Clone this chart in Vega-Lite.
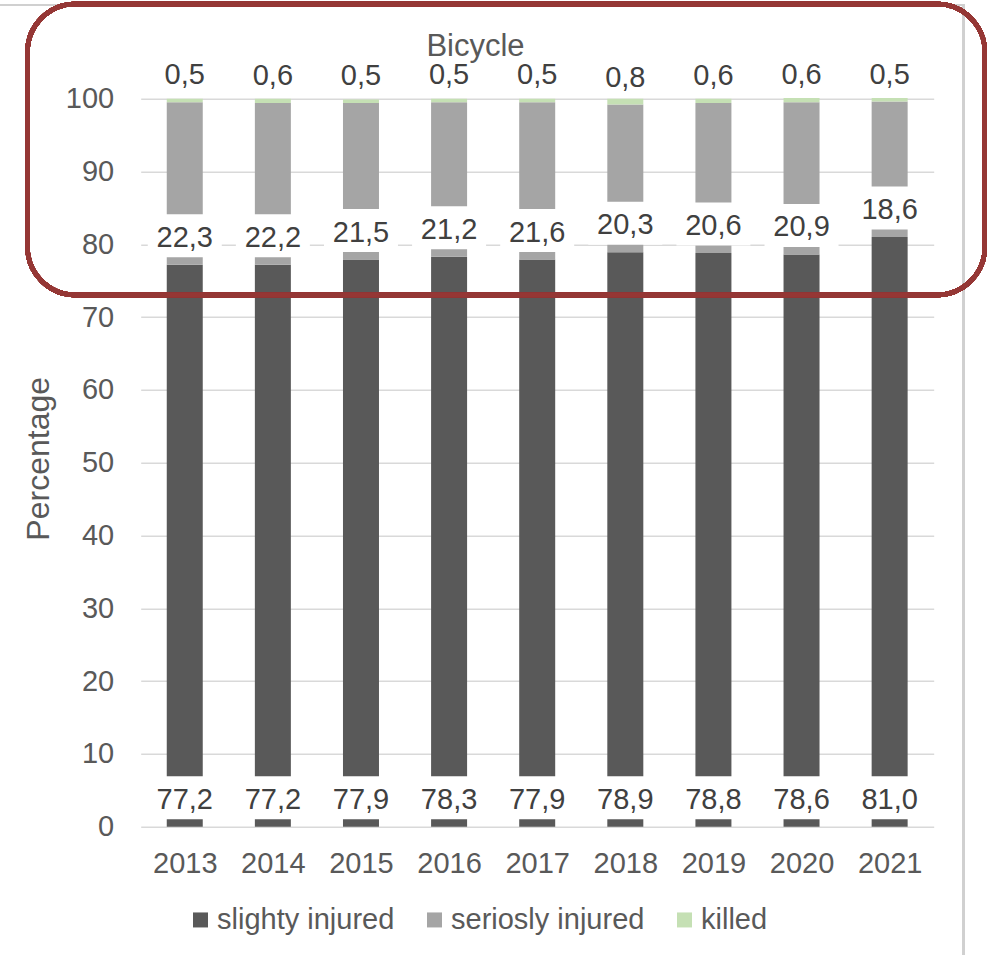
{
  "$schema": "https://vega.github.io/schema/vega-lite/v6.json",
  "width": 793,
  "height": 728,
  "autosize": {"type": "none"},
  "padding": {"left": 140.7, "top": 98.7, "right": 53.3, "bottom": 128.3},
  "background": "white",
  "config": {
    "font": "Liberation Sans",
    "view": {"stroke": null},
    "locale": {"number": {"decimal": ",", "thousands": ".", "grouping": [3], "currency": ["", " €"]}}
  },
  "title": {
    "text": "Bicycle",
    "fontSize": 31,
    "fontWeight": "normal",
    "color": "#595959",
    "anchor": "middle",
    "frame": "group",
    "dx": -61.7,
    "baseline": "alphabetic",
    "offset": -85
  },
  "data": {
    "values": [
      {"year": 2013, "category": "slighty injured", "value": 77.2},
      {"year": 2013, "category": "seriosly injured", "value": 22.3},
      {"year": 2013, "category": "killed", "value": 0.5},
      {"year": 2014, "category": "slighty injured", "value": 77.2},
      {"year": 2014, "category": "seriosly injured", "value": 22.2},
      {"year": 2014, "category": "killed", "value": 0.6},
      {"year": 2015, "category": "slighty injured", "value": 77.9},
      {"year": 2015, "category": "seriosly injured", "value": 21.5},
      {"year": 2015, "category": "killed", "value": 0.5},
      {"year": 2016, "category": "slighty injured", "value": 78.3},
      {"year": 2016, "category": "seriosly injured", "value": 21.2},
      {"year": 2016, "category": "killed", "value": 0.5},
      {"year": 2017, "category": "slighty injured", "value": 77.9},
      {"year": 2017, "category": "seriosly injured", "value": 21.6},
      {"year": 2017, "category": "killed", "value": 0.5},
      {"year": 2018, "category": "slighty injured", "value": 78.9},
      {"year": 2018, "category": "seriosly injured", "value": 20.3},
      {"year": 2018, "category": "killed", "value": 0.8},
      {"year": 2019, "category": "slighty injured", "value": 78.8},
      {"year": 2019, "category": "seriosly injured", "value": 20.6},
      {"year": 2019, "category": "killed", "value": 0.6},
      {"year": 2020, "category": "slighty injured", "value": 78.6},
      {"year": 2020, "category": "seriosly injured", "value": 20.9},
      {"year": 2020, "category": "killed", "value": 0.6},
      {"year": 2021, "category": "slighty injured", "value": 81.0},
      {"year": 2021, "category": "seriosly injured", "value": 18.6},
      {"year": 2021, "category": "killed", "value": 0.5}
    ]
  },
  "transform": [
    {"stack": "value", "groupby": ["year"], "sort": [{"field": "category", "order": "descending"}], "as": ["v0", "v1"]}
  ],
  "layer": [
    {
      "mark": {"type": "bar", "size": 36},
      "encoding": {
        "x": {
          "field": "year", "type": "quantitative",
          "scale": {"domain": [2012.5, 2021.5], "nice": false, "zero": false, "padding": 0},
          "axis": {
            "values": [2013, 2014, 2015, 2016, 2017, 2018, 2019, 2020, 2021],
            "format": "d", "title": null, "grid": false, "domain": false, "ticks": false,
            "labelFontSize": 29, "labelColor": "#595959", "labelPadding": 45.5,
            "labelBaseline": "alphabetic", "labelFlush": false, "labelOverlap": false
          }
        },
        "y": {
          "field": "v0", "type": "quantitative",
          "scale": {"domain": [0, 100], "nice": false, "padding": 0},
          "axis": {
            "values": [0, 10, 20, 30, 40, 50, 60, 70, 80, 90, 100],
            "title": "Percentage", "grid": true, "gridColor": "#d9d9d9", "gridWidth": 1.5,
            "domain": false, "ticks": false,
            "labelFontSize": 29, "labelColor": "#595959", "labelPadding": 27,
            "titleFontSize": 32, "titleFontWeight": "normal", "titleColor": "#595959",
            "titleX": -92.2, "titleY": 359.6, "titleAngle": -90, "titleBaseline": "alphabetic", "titleAlign": "center"
          }
        },
        "y2": {"field": "v1"},
        "color": {
          "field": "category", "type": "nominal",
          "scale": {"domain": ["slighty injured", "seriosly injured", "killed"], "range": ["#595959", "#a5a5a5", "#c5e0b4"]},
          "legend": {
            "orient": "none", "legendX": 45.3, "legendY": 806.5, "direction": "horizontal",
            "title": null, "symbolType": "square", "symbolSize": 225, "symbolStrokeWidth": 0,
            "labelFontSize": 29, "labelColor": "#595959", "labelOffset": 2, "columnPadding": 25,
            "labelLimit": 400, "padding": 0
          }
        }
      }
    },
    {
      "mark": {"type": "bar", "size": 74, "color": "white", "yOffset": -7.5, "y2Offset": -50.5},
      "encoding": {
        "x": {"field": "year", "type": "quantitative"},
        "y": {"field": "v0", "type": "quantitative"},
        "y2": {"field": "v0"}
      }
    },
    {
      "mark": {"type": "text", "dy": -18, "baseline": "alphabetic", "align": "center", "fontSize": 29, "color": "#404040"},
      "encoding": {
        "x": {"field": "year", "type": "quantitative"},
        "y": {"field": "v0", "type": "quantitative"},
        "text": {"field": "value", "type": "quantitative", "format": ".1f"}
      }
    },
    {
      "mark": {"type": "rect", "filled": false, "stroke": "#d0d0d0", "strokeWidth": 2},
      "encoding": {
        "x": {"datum": 2010.0, "type": "quantitative"},
        "x2": {"datum": 2021.84},
        "y": {"datum": -20, "type": "quantitative"},
        "y2": {"datum": 112.87}
      }
    },
    {
      "mark": {"type": "rect", "filled": false, "stroke": "#953735", "strokeWidth": 4.5, "cornerRadius": 48},
      "encoding": {
        "x": {"datum": 2011.215, "type": "quantitative"},
        "x2": {"datum": 2022.081},
        "y": {"datum": 73.04, "type": "quantitative"},
        "y2": {"datum": 113.01}
      }
    }
  ]
}
